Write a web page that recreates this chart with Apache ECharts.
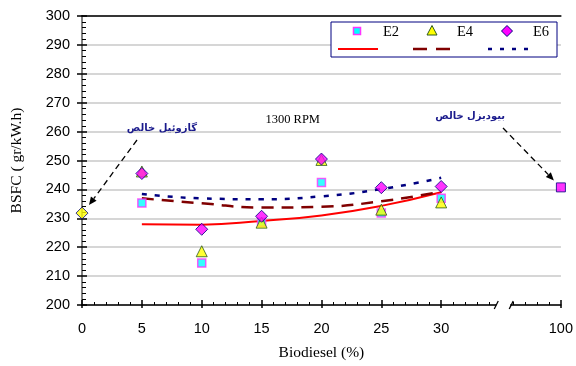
<!DOCTYPE html>
<html><head><meta charset="utf-8">
<script src="https://cdn.jsdelivr.net/npm/echarts@6/dist/echarts.min.js"></script>
<style>html,body{margin:0;padding:0;background:#fff}#chart{width:576px;height:366px}</style>
</head><body><div id="chart"></div>
<script>
// Biodiesel share (%) in each blend
const blendShare = [5, 10, 15, 20, 25, 30];
// Measured BSFC (gr/kW.h) for the three ethanol levels
const e2Values = [235.3, 214.5, 228.6, 242.4, 231.8, 236.9];
const e4Values = [246.2, 218.6, 228.5, 250.2, 233.0, 235.5];
const e6Values = [245.5, 226.2, 230.7, 250.5, 240.6, 241.0];
// Trend curves through each group
const trendShare = [5, 10, 15, 20, 25, 30];
const e2Trend = [227.9, 227.8, 229.1, 231.0, 234.3, 239.0];
const e4Trend = [236.9, 235.2, 233.7, 234.0, 235.9, 239.2];
const e6Trend = [238.4, 236.9, 236.6, 237.6, 240.1, 244.0];
// Reference fuels
const pureDiesel = [0, 231.8];
const pureBiodiesel = [100, 240.7];
// Axis ticks
const xTickValues = [0, 5, 10, 15, 20, 25, 30, 100];
const yMin = 200, yMax = 300, yStep = 10;

// The x axis is broken between 35 and 100: 100 sits at axis position 40
const BREAK_AT = 40;
const toAxis = v => (v === 100 ? BREAK_AT : v);
const axisTicks = xTickValues.map(toAxis);

const serif = 'Liberation Serif';
const sans = 'Liberation Sans';

const chart = echarts.init(document.getElementById('chart'));

const pair = (xs, ys) => xs.map((x, i) => [toAxis(x), ys[i]]);

const baseX = {
  type: 'value', min: 0, max: BREAK_AT, interval: 5,
  splitLine: { show: false }
};
const baseY = {
  type: 'value', min: yMin, max: yMax, interval: yStep
};

chart.setOption({
  animation: false,
  grid: { left: 82, right: 12, top: 16, bottom: 60, containLabel: false },
  xAxis: [
    Object.assign({}, baseX, {
      position: 'bottom',
      name: 'Biodiesel (%)', nameLocation: 'middle', nameGap: 40,
      nameTextStyle: { fontFamily: serif, fontSize: 15.5, color: '#000' },
      axisLine: { lineStyle: { color: '#000', width: 1.5 } },
      axisTick: { show: true, inside: false, length: 3, customValues: axisTicks, lineStyle: { color: '#000', width: 1.5 } },
      axisLabel: {
        customValues: axisTicks, margin: 16, fontFamily: sans, fontSize: 14.5, color: '#000',
        formatter: v => (v === BREAK_AT ? '100' : String(v))
      }
    }),
    Object.assign({}, baseX, {
      position: 'bottom',
      axisLine: { show: false },
      axisTick: { show: true, inside: true, length: 5, lineStyle: { color: '#000', width: 1.5 } },
      minorTick: { show: true, splitNumber: 5, length: 3, lineStyle: { color: '#000', width: 1 } },
      axisLabel: { show: false }
    }),
    Object.assign({}, baseX, {
      position: 'top',
      axisLine: { lineStyle: { color: '#000', width: 1.5 } },
      axisTick: { show: false }, axisLabel: { show: false }
    })
  ],
  yAxis: [
    Object.assign({}, baseY, {
      position: 'left',
      name: 'BSFC ( gr/kW.h)', nameLocation: 'middle', nameGap: 57,
      nameTextStyle: { fontFamily: serif, fontSize: 15.5, color: '#000' },
      axisLine: { show: true, lineStyle: { color: '#000', width: 1.5 } },
      axisTick: { show: true, inside: false, length: 5, lineStyle: { color: '#000', width: 1.5 } },
      axisLabel: { margin: 12, fontFamily: sans, fontSize: 14.5, color: '#000' },
      splitLine: { show: true, lineStyle: { color: '#c8c8c8', width: 1.5 } }
    }),
    Object.assign({}, baseY, {
      position: 'left',
      axisLine: { show: false },
      axisTick: { show: true, inside: true, length: 5, lineStyle: { color: '#000', width: 1.5 } },
      minorTick: { show: true, splitNumber: 5, length: 4, lineStyle: { color: '#000', width: 1 } },
      axisLabel: { show: false }, splitLine: { show: false }
    }),
    Object.assign({}, baseY, {
      position: 'right',
      axisLine: { show: true, lineStyle: { color: '#808080', width: 2 } },
      axisTick: { show: false }, axisLabel: { show: false }, splitLine: { show: false }
    })
  ],
  series: [
    {
      name: 'E2 trend', type: 'line', smooth: true, symbol: 'none', z: 2,
      data: pair(trendShare, e2Trend),
      lineStyle: { color: '#ff0000', width: 2 }
    },
    {
      name: 'E4 trend', type: 'line', smooth: true, symbol: 'none', z: 2,
      data: pair(trendShare, e4Trend),
      lineStyle: { color: '#800000', width: 2.5, type: [12, 8] }
    },
    {
      name: 'E6 trend', type: 'line', smooth: true, symbol: 'none', z: 2,
      data: pair(trendShare, e6Trend),
      lineStyle: { color: '#000080', width: 2.5, type: [5, 8] }
    },
    {
      name: 'E2', type: 'scatter', symbol: 'rect', symbolSize: 8, z: 3,
      data: pair(blendShare, e2Values),
      itemStyle: { color: '#00ffff', borderColor: '#ff33ff', borderWidth: 1.5 }
    },
    {
      name: 'E4', type: 'scatter', symbol: 'triangle', symbolSize: 11, z: 4,
      data: pair(blendShare, e4Values),
      itemStyle: { color: '#ffff00', borderColor: '#2d5a1e', borderWidth: 1 }
    },
    {
      name: 'E6', type: 'scatter', symbol: 'diamond', symbolSize: 12, z: 5,
      data: pair(blendShare, e6Values),
      itemStyle: { color: '#ff00ff', borderColor: '#000080', borderWidth: 1 }
    },
    {
      name: 'Diesel', type: 'scatter', symbol: 'diamond', symbolSize: 12, z: 5,
      data: [[toAxis(pureDiesel[0]), pureDiesel[1]]],
      itemStyle: { color: '#ffff00', borderColor: '#000080', borderWidth: 1 }
    },
    {
      name: 'Biodiesel', type: 'scatter', symbol: 'rect', symbolSize: 9, z: 5,
      data: [[toAxis(pureBiodiesel[0]), pureBiodiesel[1]]],
      itemStyle: { color: '#ff00ff', borderColor: '#000080', borderWidth: 1 }
    }
  ]
});

// Decorations placed from the chart's own coordinate system
function px(x, y) { return chart.convertToPixel({ xAxisIndex: 0, yAxisIndex: 0 }, [x, y]); }

function arrow(from, to) {
  const ang = Math.atan2(to[1] - from[1], to[0] - from[0]);
  const L = 8, W = 3.5;
  const bx = to[0] - L * Math.cos(ang), by = to[1] - L * Math.sin(ang);
  const nx = -Math.sin(ang) * W, ny = Math.cos(ang) * W;
  return [
    { type: 'line', shape: { x1: from[0], y1: from[1], x2: bx, y2: by },
      style: { stroke: '#000', lineWidth: 1.3, lineDash: [6, 4] } },
    { type: 'polygon', shape: { points: [[to[0], to[1]], [bx + nx, by + ny], [bx - nx, by - ny]] },
      style: { fill: '#000' } }
  ];
}

const axisY = px(0, yMin)[1];
const b1 = px(34.6, yMin)[0], b2 = px(35.6, yMin)[0];
const dieselPt = px(toAxis(pureDiesel[0]), pureDiesel[1]);
const bioPt = px(toAxis(pureBiodiesel[0]), pureBiodiesel[1]);
const rpmPt = px(17.6, 264);

const lx = 331, ly = 22;
const legendFont = '14.5px ' + serif;
const graphics = [
  // axis break
  { type: 'rect', shape: { x: b1, y: axisY - 7, width: b2 - b1 + 2, height: 12 }, style: { fill: '#fff' }, z: 50 },
  { type: 'line', shape: { x1: b1 - 2, y1: axisY + 4, x2: b1 + 2, y2: axisY - 4 }, style: { stroke: '#000', lineWidth: 1.3 }, z: 51 },
  { type: 'line', shape: { x1: b2 + 1, y1: axisY + 4, x2: b2 + 5, y2: axisY - 4 }, style: { stroke: '#000', lineWidth: 1.3 }, z: 51 },
  // legend box
  { type: 'rect', shape: { x: lx, y: ly, width: 226, height: 35 }, style: { fill: '#fff', stroke: '#000080', lineWidth: 1 }, z: 60 },
  { type: 'rect', shape: { x: 353.5, y: 27.5, width: 7, height: 7 }, style: { fill: '#00ffff', stroke: '#ff33ff', lineWidth: 1.5 }, z: 61 },
  { type: 'text', style: { x: 383, y: 32, text: 'E2', font: legendFont, fill: '#000', verticalAlign: 'middle' }, z: 61 },
  { type: 'polygon', shape: { points: [[432, 25.5], [437, 35], [427, 35]] }, style: { fill: '#ffff00', stroke: '#2d5a1e', lineWidth: 1 }, z: 61 },
  { type: 'text', style: { x: 457, y: 32, text: 'E4', font: legendFont, fill: '#000', verticalAlign: 'middle' }, z: 61 },
  { type: 'polygon', shape: { points: [[507, 25.5], [512.5, 31], [507, 36.5], [501.5, 31]] }, style: { fill: '#ff00ff', stroke: '#000080', lineWidth: 1 }, z: 61 },
  { type: 'text', style: { x: 533, y: 32, text: 'E6', font: legendFont, fill: '#000', verticalAlign: 'middle' }, z: 61 },
  { type: 'line', shape: { x1: 338, y1: 49, x2: 378, y2: 49 }, style: { stroke: '#ff0000', lineWidth: 2 }, z: 61 },
  { type: 'line', shape: { x1: 413, y1: 49, x2: 451, y2: 49 }, style: { stroke: '#800000', lineWidth: 2.5, lineDash: [14, 9] }, z: 61 },
  { type: 'line', shape: { x1: 488, y1: 49, x2: 529, y2: 49 }, style: { stroke: '#000080', lineWidth: 2.5, lineDash: [4, 8] }, z: 61 },
  // speed label
  { type: 'text', style: { x: rpmPt[0], y: rpmPt[1], text: '1300 RPM', font: '12.5px ' + serif, fill: '#000', align: 'center', verticalAlign: 'middle' }, z: 40 },
  // fuel annotations
  { type: 'text', style: { x: 197, y: 128, text: 'گازوئیل خالص', font: 'bold 10px "DejaVu Sans"', fill: '#1a1a8c', align: 'right', verticalAlign: 'middle' }, z: 40 },
  { type: 'text', style: { x: 505, y: 116, text: 'بیودیزل خالص', font: 'bold 10px "DejaVu Sans"', fill: '#1a1a8c', align: 'right', verticalAlign: 'middle' }, z: 40 }
]
  .concat(arrow([137, 140], [dieselPt[0] + 7, dieselPt[1] - 8]))
  .concat(arrow([503, 128], [bioPt[0] - 7, bioPt[1] - 7]));

chart.setOption({ graphic: graphics });
</script>
</body></html>
